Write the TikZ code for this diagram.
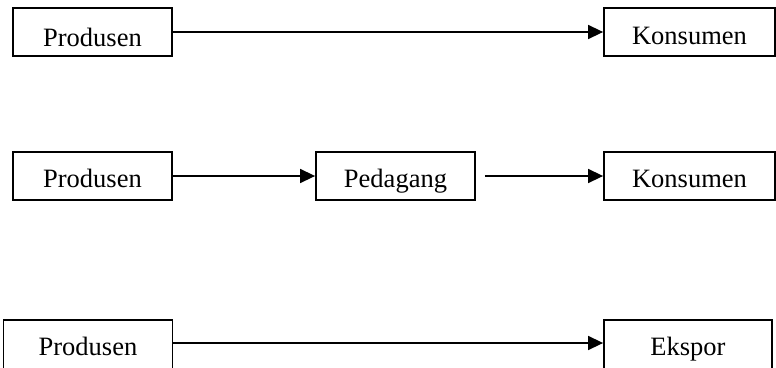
\documentclass[tikz,border=0pt]{standalone}
\usepackage{fontspec}
\setmainfont{Liberation Serif}
\usetikzlibrary{arrows.meta}

\tikzset{
  box/.style={draw, line width=1.8pt, rectangle, inner sep=0pt,
    minimum height=48pt, text height=22pt, text depth=0pt,
    font=\fontsize{26.5}{30}\selectfont},
  flow/.style={line width=1.5pt, -{Triangle[length=15pt,width=14pt]}}
}

\begin{document}
\begin{tikzpicture}[x=1pt,y=-1pt]
  \useasboundingbox (0,0) rectangle (776,367);
  \clip (0,0) rectangle (776,367);

  % direct channel
  \node[box, minimum width=159pt, text height=29pt] (prod1) at (92.5,32) {Produsen};
  \node[box, minimum width=171pt, text height=24pt] (kons1) at (689.5,32) {Konsumen};
  \draw[flow] (prod1) -- (kons1);

  % channel through a trader
  \node[box, minimum width=159pt] (prod2) at (92.5,176) {Produsen};
  \node[box, minimum width=159pt] (pdg)   at (395.5,176) {Pedagang};
  \node[box, minimum width=171pt] (kons2) at (689.5,176) {Konsumen};
  \draw[flow] (prod2) -- (pdg);
  \draw[flow, shorten <=9pt] (pdg) -- (kons2);

  % export channel (boxes run past the lower edge)
  \node[box, minimum width=169pt, minimum height=52pt, text height=18pt] (prod3) at (88,346) {Produsen};
  \node[box, minimum width=168pt, minimum height=52pt, text height=18pt] (eks)   at (688,346) {Ekspor};
  \draw[flow] ([yshift=3pt]prod3.east) -- ([yshift=3pt]eks.west);
\end{tikzpicture}
\end{document}
